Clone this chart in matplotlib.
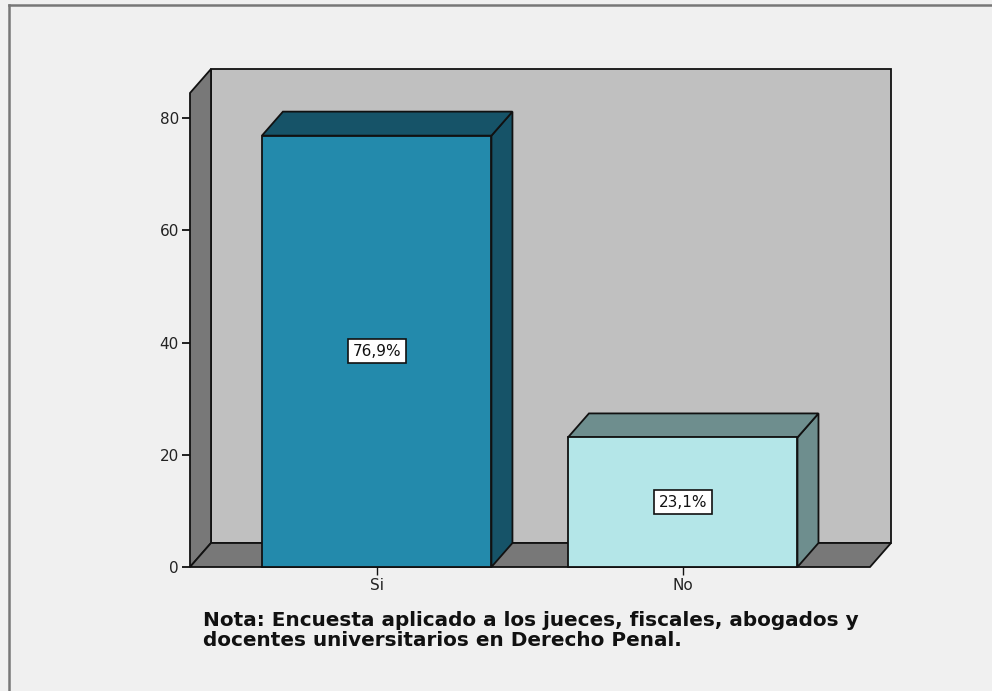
import matplotlib
matplotlib.use("Agg")
import matplotlib.pyplot as plt
from matplotlib.patches import Polygon, Rectangle
from matplotlib.lines import Line2D

# survey answers (percent of respondents)
categories = ["Si", "No"]
percentages = [76.9, 23.1]
bar_labels = ["76,9%", "23,1%"]
y_ticks = [0, 20, 40, 60, 80]
note = ("Nota: Encuesta aplicado a los jueces, fiscales, abogados y\n"
        "docentes universitarios en Derecho Penal.")

front_colors = ["#238aac", "#b4e6e8"]
shade_colors = ["#165368", "#6e8e8e"]
WALL = "#c0c0c0"
SIDE = "#787878"
BG = "#f0f0f0"

plt.rcParams["font.family"] = ["DejaVu Sans"]

W, H = 992, 691
fig = plt.figure(figsize=(W / 100, H / 100), dpi=100, facecolor=BG)

# front plane of the 3d box in pixels
left, right, bottom, top = 190, 870, 567, 93
ax = fig.add_axes([left / W, 1 - bottom / H, (right - left) / W, (bottom - top) / H])
ax.set_xlim(-0.61, 1.612)
ax.set_ylim(0, 84.5)
ax.set_facecolor("none")
for s in ax.spines.values():
    s.set_visible(False)

x0, x1 = ax.get_xlim()
y0, y1 = ax.get_ylim()
# depth offset (21 px right, 24 px up) in data units
dx = 21 * (x1 - x0) / (right - left)
dy = 24 * (y1 - y0) / (bottom - top)

kw = dict(clip_on=False, linewidth=1.3, edgecolor="#111111", joinstyle="miter")
ax.add_patch(Rectangle((x0 + dx, y0 + dy), x1 - x0, y1 - y0, facecolor=WALL, **kw))
ax.add_patch(Polygon([(x0, y0), (x0 + dx, y0 + dy), (x0 + dx, y1 + dy), (x0, y1)],
                     facecolor=SIDE, **kw))
ax.add_patch(Polygon([(x0, y0), (x1, y0), (x1 + dx, y0 + dy), (x0 + dx, y0 + dy)],
                     facecolor=SIDE, **kw))

bw = 0.75
for i, (v, fc, sc, lab) in enumerate(zip(percentages, front_colors, shade_colors, bar_labels)):
    a, b = i - bw / 2, i + bw / 2
    ax.add_patch(Polygon([(b, 0), (b + dx, dy), (b + dx, v + dy), (b, v)], facecolor=sc, **kw))
    ax.add_patch(Polygon([(a, v), (b, v), (b + dx, v + dy), (a + dx, v + dy)], facecolor=sc, **kw))
    ax.add_patch(Rectangle((a, 0), bw, v, facecolor=fc, **kw))
    ax.text(i, v / 2, lab, ha="center", va="center", fontsize=11, color="#111111",
            bbox=dict(boxstyle="square,pad=0.3", facecolor="white", edgecolor="#111111", linewidth=1.2))

ax.set_xticks(range(len(categories)))
ax.set_xticklabels(categories)
ax.set_yticks(y_ticks)
ax.tick_params(axis="y", length=6, width=1.3, color="#111111", labelsize=11, pad=2, labelcolor="#222222")
ax.tick_params(axis="x", length=6, width=1, color="#111111", labelsize=11, pad=2, labelcolor="#222222")

fig.text(203 / W, 1 - 611 / H, note, ha="left", va="top", fontsize=14.4,
         fontweight="bold", family="DejaVu Sans", linespacing=1.05, color="#111111")

# outer frame (top and left edges visible)
fig.add_artist(Line2D([9 / W, 1], [1 - 5 / H, 1 - 5 / H], color="#777777", linewidth=1.8))
fig.add_artist(Line2D([9 / W, 9 / W], [0, 1 - 5 / H], color="#777777", linewidth=1.8))

fig.savefig("out.png", dpi=100, facecolor=BG)
